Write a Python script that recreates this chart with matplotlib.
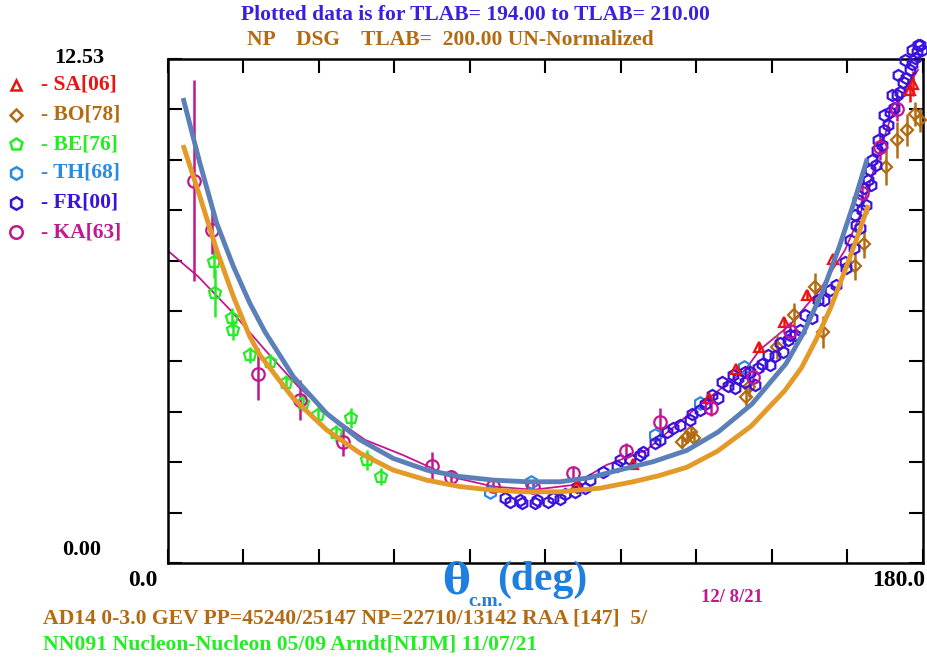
import matplotlib
matplotlib.use("Agg")
import matplotlib.pyplot as plt
import numpy as np

plt.rcParams['font.family'] = ['Liberation Serif', 'DejaVu Serif']

W, H = 928, 663

# ---------------- data ----------------
be_x = [11.0, 11.2, 15.2, 15.6, 19.5, 24.2, 28.1, 32.1, 35.8, 40.0, 43.6, 47.4, 50.9]
be_y = [7.49, 6.72, 6.09, 5.79, 5.17, 5.00, 4.47, 3.97, 3.68, 3.22, 3.60, 2.56, 2.15]
be_e = [0.40, 0.60, 0.25, 0.25, 0.20, 0.20, 0.20, 0.20, 0.20, 0.20, 0.25, 0.25, 0.20]

ka_x = [6.3, 10.4, 21.4, 31.5, 41.8, 62.9, 67.4, 77.4, 87.1, 96.6, 109.2, 117.3, 129.4, 139.4, 148.4, 165.4, 169.7, 173.7]
ka_y = [9.50, 8.28, 4.70, 4.05, 3.02, 2.41, 2.15, 1.92, 1.90, 2.23, 2.79, 3.51, 3.85, 4.62, 5.78, 9.19, 10.33, 11.28]
ka_e = [2.5, 0.6, 0.65, 0.5, 0.35, 0.35, 0.15, 0.15, 0.1, 0.15, 0.2, 0.35, 0.2, 0.2, 0.2, 0.25, 0.3, 0.3]

th_x = [76.8, 86.6, 116.1, 126.8, 137.4]
th_y = [1.77, 2.02, 3.18, 3.97, 4.88]

sa_x = [97.4, 110.8, 129.0, 135.4, 140.9, 146.9, 152.4, 158.6, 176.9, 177.7]
sa_y = [1.94, 2.46, 4.09, 4.82, 5.36, 6.00, 6.66, 7.57, 11.76, 11.92]
sa_e = [0.05, 0.08, 0.08, 0.08, 0.10, 0.10, 0.12, 0.12, 0.30, 0.30]

bo_x = [122.6, 123.8, 124.8, 125.5, 137.9, 138.5, 145.1, 149.3, 154.2, 156.2, 163.9, 166.0, 171.1, 173.7, 176.1, 178.1, 179.4]
bo_y = [3.02, 3.14, 3.26, 3.10, 4.13, 4.38, 5.38, 6.17, 6.87, 5.75, 7.39, 7.93, 9.85, 10.52, 10.76, 11.16, 11.01]
bo_e = [0.15, 0.15, 0.15, 0.15, 0.30, 0.25, 0.30, 0.30, 0.35, 0.40, 0.35, 0.35, 0.45, 0.45, 0.40, 0.30, 0.30]

fr_x = [80.3, 84.0, 88.0, 91.8, 94.6, 97.5, 100.6, 103.7, 107.0, 110.1, 113.2, 116.1, 119.0, 122.1,
        124.9, 128.0, 131.1, 133.5, 135.9, 138.8, 141.6, 144.7, 147.8, 150.7, 153.5, 156.4, 159.3,
        161.6, 163.5, 165.0, 166.4, 167.6, 168.8, 170.2, 171.7, 173.1, 174.5, 175.9, 177.4, 178.6, 179.3,
        135.2, 137.5, 139.9, 143.5, 146.6, 149.5, 163.8, 164.5, 165.9, 167.4, 169.0, 170.7, 172.1,
        173.8, 175.2, 176.9, 178.1, 179.8,
        107.8, 112.5, 117.3, 120.4, 124.4, 126.8, 129.7, 132.1, 134.7, 137.6, 140.6, 143.0, 145.9, 148.3,
        151.9, 154.9, 157.8, 161.4, 162.6, 164.0, 165.5, 166.9, 167.9, 169.3, 170.7, 172.6, 174.0,
        175.7, 177.4, 178.8,
        81.5, 84.4, 87.5, 90.6, 93.5, 97.0, 99.4]
fr_y = [1.62, 1.57, 1.57, 1.62, 1.72, 1.89, 2.06, 2.26, 2.41, 2.59, 2.76, 2.98, 3.26, 3.43,
        3.70, 3.95, 4.10, 4.40, 4.60, 4.75, 4.95, 5.15, 5.54, 5.79, 6.09, 6.54, 6.91,
        7.33, 7.83, 8.33, 8.90, 9.40, 9.89, 10.39, 10.89, 11.31, 11.71, 12.06, 12.41, 12.70, 12.88,
        4.35, 4.50, 4.43, 4.92, 5.25, 5.67, 8.65, 9.02, 9.32, 9.77, 10.27, 10.76, 11.21,
        11.63, 11.96, 12.26, 12.55, 12.75,
        2.56, 2.68, 3.06, 3.36, 3.56, 3.80, 4.18, 4.50, 4.67, 4.75, 4.85, 5.17, 5.47, 5.67,
        6.17, 6.54, 6.79, 7.48, 8.03, 8.40, 8.78, 9.52, 10.02, 10.52, 11.14, 11.63, 12.13,
        12.50, 12.75, 12.88,
        1.52, 1.49, 1.49, 1.52, 1.59, 1.77, 1.86]

# fit curves
blue_x = [3.6, 7.6, 11.6, 15.6, 19.5, 23.1, 29.9, 37.8, 45.8, 53.7, 61.7, 69.6, 77.6, 85.5, 93.5,
          100.5, 107.5, 115.7, 123.7, 131.2, 139.2, 147.3, 151.5, 156.2, 160.0, 163.5, 166.7]
blue_y = [11.56, 9.94, 8.45, 7.37, 6.46, 5.75, 4.63, 3.72, 3.06, 2.60, 2.31, 2.15, 2.06, 2.02, 2.02,
          2.12, 2.31, 2.52, 2.80, 3.26, 3.95, 4.95, 5.72, 6.78, 7.85, 8.95, 10.05]

orng_x = [3.6, 7.6, 11.6, 15.6, 19.5, 21.9, 29.9, 37.8, 45.8, 53.7, 61.7, 69.6, 77.6, 85.5, 93.5,
          103.0, 110.9, 117.0, 123.7, 131.0, 139.0, 147.0, 151.0, 154.5, 158.0, 161.5, 164.5, 167.0]
orng_y = [10.39, 9.11, 7.78, 6.62, 5.63, 5.17, 4.09, 3.31, 2.73, 2.31, 2.06, 1.90, 1.81, 1.77, 1.77,
          1.86, 2.02, 2.17, 2.38, 2.78, 3.40, 4.28, 4.85, 5.55, 6.35, 7.30, 8.15, 8.90]

mag_x = [0.0, 7.2, 15.2, 23.1, 31.1, 39.0, 47.0, 56.1, 62.9, 67.2, 77.6, 87.1, 96.6, 104.6, 114.1,
         126.8, 137.6, 141.1, 148.3, 155.4, 161.4, 165.0, 168.6, 172.1, 175.7, 178.8]
mag_y = [7.76, 7.12, 6.25, 5.30, 4.38, 3.64, 3.06, 2.68, 2.36, 2.15, 1.90, 1.82, 1.94, 2.44, 2.81,
         3.93, 4.80, 5.30, 5.92, 6.79, 7.78, 8.65, 9.89, 11.01, 11.76, 12.26]

legend_labels = ["- SA[06]", "- BO[78]", "- BE[76]", "- TH[68]", "- FR[00]", "- KA[63]"]

# ---------------- style ----------------
C_SA = '#ee1111'
C_BO = '#b36b12'
C_BE = '#22ee22'
C_TH = '#2a8ae0'
C_FR = '#3a12dc'
C_KA = '#c4168e'
C_BLUE = '#5b80b8'
C_ORNG = '#e39a28'

fig = plt.figure(figsize=(W / 100, H / 100), dpi=100)
ax = fig.add_axes([168 / W, 1 - 563 / H, (923 - 168) / W, (563 - 59) / H])
ax.set_xlim(0, 180)
ax.set_ylim(0, 12.53)

ax.plot(mag_x, mag_y, color=C_KA, lw=1.3, zorder=2)

def series(x, y, e, marker, color, ms, mew=1.6):
    if e is not None:
        ax.errorbar(x, y, yerr=e, fmt='none', ecolor=color, elinewidth=1.8, capsize=0, zorder=3, clip_on=False)
    ax.plot(x, y, linestyle='none', marker=marker, ms=ms, mfc='none', mec=color, mew=mew, zorder=4, clip_on=False)

series(be_x, be_y, be_e, 'p', C_BE, 9)
series(th_x, th_y, None, 'h', C_TH, 9)
series(bo_x, bo_y, bo_e, 'D', C_BO, 6.5)
series(fr_x, fr_y, None, 'h', C_FR, 8)
series(sa_x, sa_y, sa_e, '^', C_SA, 7)
series(ka_x, ka_y, ka_e, 'o', C_KA, 9)

ax.plot(orng_x, orng_y, color=C_ORNG, lw=3.5, zorder=5, solid_capstyle='butt', solid_joinstyle='round')
ax.plot(blue_x, blue_y, color=C_BLUE, lw=3.5, zorder=5, solid_capstyle='butt', solid_joinstyle='round')

ax.set_xticks(np.linspace(0, 180, 11))
ax.set_yticks(np.linspace(0, 12.53, 11))
ax.tick_params(direction='in', length=10, width=1.5, top=True, right=True,
               labelbottom=False, labelleft=False, color='black')
for s in ax.spines.values():
    s.set_linewidth(1.8)

def ftext(px, py, s, color='black', size=14, ha='left', va='center', **kw):
    fig.text(px / W, 1 - py / H, s, color=color, fontsize=size, ha=ha, va=va,
             fontweight='bold', **kw)

ftext(475, 15, "Plotted data is for TLAB= 194.00 to TLAB= 210.00", color='#3c1ee0', size=15.5, ha='center')
ftext(450, 40, "NP    DSG    TLAB=  200.00 UN-Normalized", color=C_BO, size=15.5, ha='center')
ftext(104, 58, "12.53", size=16, ha='right')
ftext(101, 550, "0.00", size=16, ha='right')
ftext(158, 580, "0.0", size=17, ha='right')
ftext(925, 580, "180.0", size=17, ha='right')
ftext(470, 582, "\u03b8", color='#1f7fde', size=30, ha='right', family='DejaVu Serif')
ftext(468, 602, "c.m.", color='#1f7fde', size=14, ha='left')
ftext(497, 580, "(deg)", color='#1f7fde', size=30, ha='left')
ftext(732, 597, "12/ 8/21", color=C_KA, size=13.5, ha='center')
ftext(43, 619, "AD14 0-3.0 GEV PP=45240/25147 NP=22710/13142 RAA [147]  5/", color=C_BO, size=15.6)
ftext(43, 645, "NN091 Nucleon-Nucleon 05/09 Arndt[NIJM] 11/07/21", color=C_BE, size=15.6)

# legend (outside, left)
leg_markers = ['^', 'D', 'p', 'h', 'h', 'o']
leg_colors = [C_SA, C_BO, C_BE, C_TH, C_FR, C_KA]
leg_ms = [7, 6.5, 9, 9, 9, 9]
leg_y = [85, 115, 144, 173, 203, 232]
for lab, m, c, ms, py in zip(legend_labels, leg_markers, leg_colors, leg_ms, leg_y):
    fig.lines.append(matplotlib.lines.Line2D([16 / W], [1 - py / H], marker=m, ms=ms, mfc='none',
                                             mec=c, mew=1.8, linestyle='none', transform=fig.transFigure))
    ftext(41, py, lab, color=c, size=15.5)

fig.savefig("out.png", dpi=100)
